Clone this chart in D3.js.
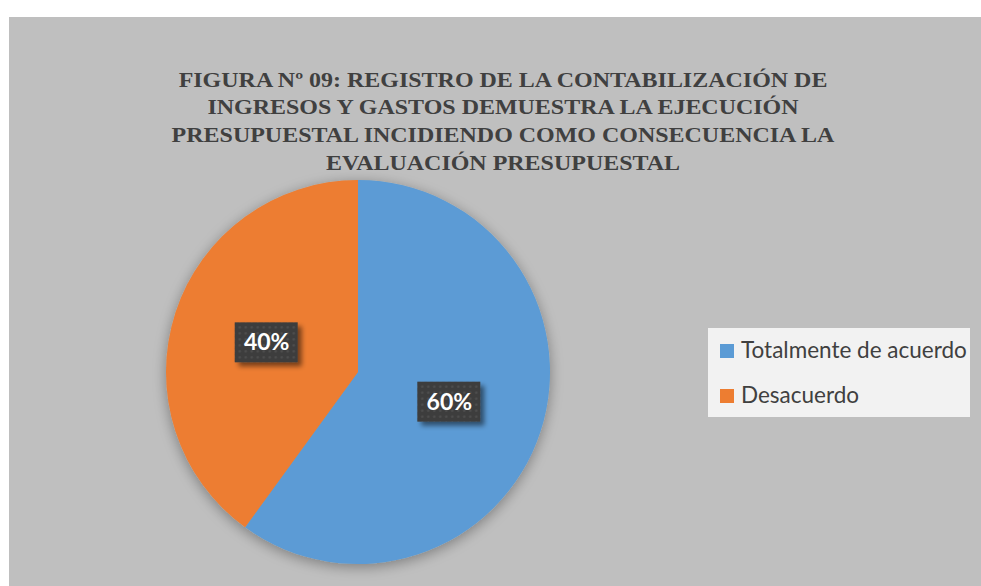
<!DOCTYPE html>
<html>
<head>
<meta charset="utf-8">
<script src="https://cdn.jsdelivr.net/npm/d3@7"></script>
<style>
  body { margin: 0; background: #fff; }
</style>
</head>
<body>
<div class="chart"></div>
<script>
const titleLines = [
    'FIGURA Nº 09: REGISTRO DE LA CONTABILIZACIÓN DE',
    'INGRESOS Y GASTOS DEMUESTRA LA EJECUCIÓN',
    'PRESUPUESTAL INCIDIENDO COMO CONSECUENCIA LA',
    'EVALUACIÓN PRESUPUESTAL'
];
const categories = ['Totalmente de acuerdo', 'Desacuerdo'];
const values = [60, 40];
const colors = ['#5b9bd5', '#ed7d31'];

const width = 981;
const height = 586;

let svg = d3
    .select('.chart')
    .append('svg')
    .attr('width', width)
    .attr('height', height);

const defs = svg.append('defs');

// soft shadow round the pie
const pieShadow = defs.append('filter')
    .attr('id', 'pie-shadow')
    .attr('x', '-20%').attr('y', '-20%')
    .attr('width', '140%').attr('height', '140%');
pieShadow.append('feGaussianBlur')
    .attr('in', 'SourceAlpha')
    .attr('stdDeviation', 7)
    .attr('result', 'blur');
pieShadow.append('feOffset')
    .attr('in', 'blur').attr('dx', 0).attr('dy', 3)
    .attr('result', 'off');
pieShadow.append('feComponentTransfer')
    .attr('in', 'off').attr('result', 'shade')
    .append('feFuncA').attr('type', 'linear').attr('slope', 0.35);
let m = pieShadow.append('feMerge');
m.append('feMergeNode').attr('in', 'shade');
m.append('feMergeNode').attr('in', 'SourceGraphic');

// shadow under the label boxes
const boxShadow = defs.append('filter')
    .attr('id', 'box-shadow')
    .attr('x', '-30%').attr('y', '-30%')
    .attr('width', '160%').attr('height', '160%');
boxShadow.append('feGaussianBlur')
    .attr('in', 'SourceAlpha')
    .attr('stdDeviation', 2.5)
    .attr('result', 'blur');
boxShadow.append('feOffset')
    .attr('in', 'blur').attr('dx', 4).attr('dy', 4)
    .attr('result', 'off');
boxShadow.append('feComponentTransfer')
    .attr('in', 'off').attr('result', 'shade')
    .append('feFuncA').attr('type', 'linear').attr('slope', 0.5);
m = boxShadow.append('feMerge');
m.append('feMergeNode').attr('in', 'shade');
m.append('feMergeNode').attr('in', 'SourceGraphic');

// dotted texture of the label boxes
const dots = defs.append('pattern')
    .attr('id', 'dots')
    .attr('width', 6).attr('height', 6)
    .attr('patternUnits', 'userSpaceOnUse');
dots.append('rect')
    .attr('width', 6).attr('height', 6)
    .attr('fill', '#3d3d3d');
dots.append('circle')
    .attr('cx', 3).attr('cy', 3).attr('r', 1.3)
    .attr('fill', '#4d4d4d');

// chart area
svg.append('rect')
    .attr('x', 9)
    .attr('y', 17)
    .attr('width', width - 9)
    .attr('height', height - 17)
    .attr('fill', '#bfbfbf');

// title (the original face is a bit wider than Times, so stretch it)
svg.append('g')
    .attr('transform', 'translate(503,0) scale(1.09,1)')
    .append('text')
    .attr('text-anchor', 'middle')
    .attr('font-family', '"Liberation Serif", "Times New Roman", serif')
    .attr('font-weight', 'bold')
    .attr('font-size', 22)
    .attr('fill', '#404040')
    .selectAll('tspan')
    .data(titleLines)
    .join('tspan')
    .attr('x', 0)
    .attr('y', (d, i) => 86.7 + i * 27.8)
    .text(d => d);

// pie
const cx = 358, cy = 372, radius = 192;
const color = d3.scaleOrdinal().domain(categories).range(colors);

const pie = d3.pie()
    .sort(null)
    .value(d => d.value);

const data = categories.map((c, i) => ({name: c, value: values[i]}));
const arcs = pie(data);
const total = d3.sum(values);

const arc = d3.arc().innerRadius(0).outerRadius(radius);

const group = svg.append('g')
    .attr('transform', `translate(${cx},${cy})`);

group.append('g')
    .attr('filter', 'url(#pie-shadow)')
    .selectAll('path')
    .data(arcs)
    .join('path')
    .attr('d', arc)
    .attr('fill', d => color(d.data.name));

// data labels
const labels = group.selectAll('g.label')
    .data(arcs)
    .join('g')
    .attr('class', 'label')
    .attr('transform', d => `translate(${arc.centroid(d)})`);

labels.append('rect')
    .attr('x', -32)
    .attr('y', -20)
    .attr('width', 63)
    .attr('height', 40)
    .attr('fill', 'url(#dots)')
    .attr('filter', 'url(#box-shadow)');

labels.append('text')
    .attr('text-anchor', 'middle')
    .attr('dy', '0.35em')
    .attr('font-family', 'Lato, "Open Sans", sans-serif')
    .attr('font-weight', 'bold')
    .attr('font-size', 23)
    .attr('fill', '#ffffff')
    .text(d => Math.round(d.data.value / total * 100) + '%');

// legend
const legend = svg.append('g');
legend.append('rect')
    .attr('x', 708)
    .attr('y', 328)
    .attr('width', 262)
    .attr('height', 89)
    .attr('fill', '#f2f2f2');

const items = legend.selectAll('g.item')
    .data(categories)
    .join('g')
    .attr('class', 'item')
    .attr('transform', (d, i) => `translate(720, ${344 + i * 45})`);

items.append('rect')
    .attr('width', 14)
    .attr('height', 14)
    .attr('fill', d => color(d));

items.append('text')
    .attr('x', 21)
    .attr('y', 13.5)
    .attr('font-family', 'Lato, "Open Sans", sans-serif')
    .attr('font-size', 22.5)
    .attr('fill', '#404040')
    .text(d => d);
</script>
</body>
</html>
